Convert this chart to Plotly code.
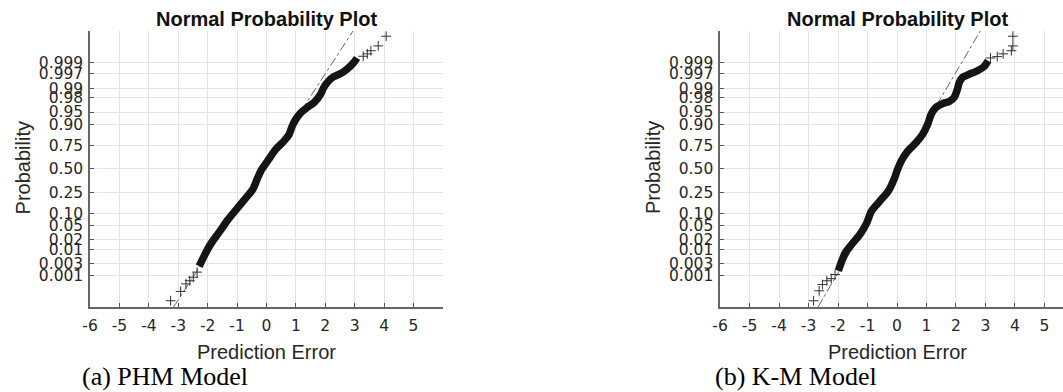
import plotly.graph_objects as go
from statistics import NormalDist

nd = NormalDist()

# ---------------- data ----------------
# y values are normal quantiles (probability axis)
prob_ticks = [0.001, 0.003, 0.01, 0.02, 0.05, 0.10, 0.25, 0.50, 0.75, 0.90, 0.95, 0.98, 0.99, 0.997, 0.999]
prob_labels = ["0.001", "0.003", "0.01", "0.02", "0.05", "0.10", "0.25", "0.50", "0.75", "0.90",
               "0.95", "0.98", "0.99", "0.997", "0.999"]
x_ticks = [-6, -5, -4, -3, -2, -1, 0, 1, 2, 3, 4, 5]

# PHM model: dense body of the sample
phm_body_err = [-2.29, -2.21, -2.04, -1.88, -1.59, -1.31, -1.03, -0.75, -0.47, -0.30, -0.19,
                0.04, 0.32, 0.60, 0.77, 0.88, 1.00, 1.17, 1.39, 1.62, 1.84, 1.95, 2.12, 2.29,
                2.52, 2.74, 2.97, 3.08]
phm_body_q = [-2.82, -2.68, -2.39, -2.15, -1.81, -1.47, -1.18, -0.89, -0.60, -0.26, -0.06,
              0.23, 0.57, 0.81, 1.00, 1.25, 1.44, 1.63, 1.78, 1.92, 2.16, 2.36, 2.55, 2.67,
              2.76, 2.89, 3.08, 3.21]
# PHM model: sparse tail points
phm_tail_err = [-3.26, -2.92, -2.74, -2.61, -2.49, -2.36, 3.29, 3.43, 3.55, 3.80, 4.07]
phm_tail_q = [-3.82, -3.55, -3.33, -3.24, -3.14, -2.99, 3.26, 3.33, 3.42, 3.56, 3.84]
# PHM reference line
phm_ref_err = [-3.16, 2.95]
phm_ref_q = [-4.0, 4.0]

# K-M model
km_body_err = [-1.99, -1.90, -1.76, -1.54, -1.26, -1.03, -0.87, -0.59, -0.30, -0.08, 0.00,
               0.145, 0.37, 0.65, 0.87, 1.04, 1.16, 1.32, 1.55, 1.77, 1.94, 2.05, 2.11, 2.22,
               2.45, 2.73, 2.95, 3.09]
km_body_q = [-2.95, -2.73, -2.44, -2.19, -1.90, -1.57, -1.23, -0.94, -0.65, -0.26, -0.06,
             0.23, 0.52, 0.76, 1.00, 1.29, 1.58, 1.78, 1.89, 1.95, 2.07, 2.31, 2.50, 2.65,
             2.74, 2.84, 2.96, 3.13]
km_tail_err = [-2.83, -2.64, -2.53, -2.38, -2.23, -2.10, 3.17, 3.40, 3.60, 3.88, 3.93, 3.93]
km_tail_q = [-3.82, -3.53, -3.35, -3.24, -3.18, -3.06, 3.21, 3.25, 3.33, 3.42, 3.56, 3.84]
km_ref_err = [-2.68, 2.83]
km_ref_q = [-4.0, 4.0]

# ---------------- figure ----------------
W, H = 1063, 392
fig = go.Figure()

def add_panel(xa, ya, body_x, body_y, tail_x, tail_y, ref_x, ref_y):
    fig.add_trace(go.Scatter(x=ref_x, y=ref_y, mode="lines", xaxis=xa, yaxis=ya,
                             line=dict(color="#666666", width=1, dash="dashdot"),
                             showlegend=False, hoverinfo="skip"))
    fig.add_trace(go.Scatter(x=body_x, y=body_y, mode="lines", xaxis=xa, yaxis=ya,
                             line=dict(color="#151515", width=7.5, shape="spline", smoothing=0.7),
                             showlegend=False))
    fig.add_trace(go.Scatter(x=tail_x, y=tail_y, mode="markers", xaxis=xa, yaxis=ya,
                             marker=dict(symbol="cross-thin", size=7,
                                         line=dict(color="#333333", width=1)),
                             showlegend=False))

add_panel("x", "y", phm_body_err, phm_body_q, phm_tail_err, phm_tail_q, phm_ref_err, phm_ref_q)
add_panel("x2", "y2", km_body_err, km_body_q, km_tail_err, km_tail_q, km_ref_err, km_ref_q)

y_tickvals = [nd.inv_cdf(p) for p in prob_ticks]
x_ticktext = [str(v) for v in x_ticks]

tickfont = dict(family="DejaVu Sans, Liberation Sans, sans-serif", size=15.5, color="#262626")
ydom = [(H - 307) / H, (H - 30.7) / H]

common_x = dict(range=[-6, 6], tickvals=x_ticks, ticktext=x_ticktext, ticks="inside",
                ticklen=4, tickcolor="#555555", showline=True, linecolor="#666666",
                linewidth=1.5, showgrid=True, gridcolor="#e3e3e3", gridwidth=1,
                zeroline=False, tickfont=tickfont, ticklabelstandoff=4, fixedrange=True)
common_y = dict(range=[-4, 4], tickvals=y_tickvals, ticktext=prob_labels, ticks="inside",
                ticklen=4, tickcolor="#555555", showline=True, linecolor="#666666",
                linewidth=1.5, showgrid=True, gridcolor="#e3e3e3", gridwidth=1,
                zeroline=False, tickfont=tickfont, domain=ydom, fixedrange=True,
                ticklabelstandoff=2)

fig.update_layout(
    width=W, height=H, margin=dict(l=0, r=0, t=0, b=0),
    paper_bgcolor="white", plot_bgcolor="white",
    xaxis=dict(common_x, domain=[82.7 / W, 438.2 / W], anchor="y"),
    yaxis=dict(common_y, anchor="x"),
    xaxis2=dict(common_x, domain=[717.5 / W, 1.0], anchor="y2", range=[-6, 5.63]),
    yaxis2=dict(common_y, anchor="x2"),
)

ann = []
for xr, yr, px in (("x", "y", 15.5), ("x2", "y2", 650.0)):
    ann.append(dict(text="<b>Normal Probability Plot</b>", x=0, xref=xr, y=(H - 19) / H,
                    yref="paper", showarrow=False, xanchor="center", yanchor="middle",
                    font=dict(family="Liberation Sans, Arial, sans-serif", size=20, color="#111111")))
    ann.append(dict(text="Prediction Error", x=0, xref=xr, y=(H - 351.7) / H, yref="paper",
                    showarrow=False, xanchor="center", yanchor="middle",
                    font=dict(family="Liberation Sans, Arial, sans-serif", size=20, color="#262626")))
    ann.append(dict(text="Probability", x=px / W, xref="paper", y=(H - 168) / H, yref="paper",
                    textangle=-90, showarrow=False, xanchor="center", yanchor="middle",
                    font=dict(family="Liberation Sans, Arial, sans-serif", size=20, color="#262626")))
ann.append(dict(text="(a) PHM Model", x=74 / W, xref="paper", y=0, yref="paper",
                showarrow=False, xanchor="left", yanchor="bottom", borderpad=0,
                font=dict(family="Liberation Serif, Times New Roman, serif", size=26, color="#000000")))
ann.append(dict(text="(b) K-M Model", x=711 / W, xref="paper", y=0, yref="paper",
                showarrow=False, xanchor="left", yanchor="bottom", borderpad=0,
                font=dict(family="Liberation Serif, Times New Roman, serif", size=26, color="#000000")))
fig.update_layout(annotations=ann)

fig.write_html("out.html", config={"displayModeBar": False})
